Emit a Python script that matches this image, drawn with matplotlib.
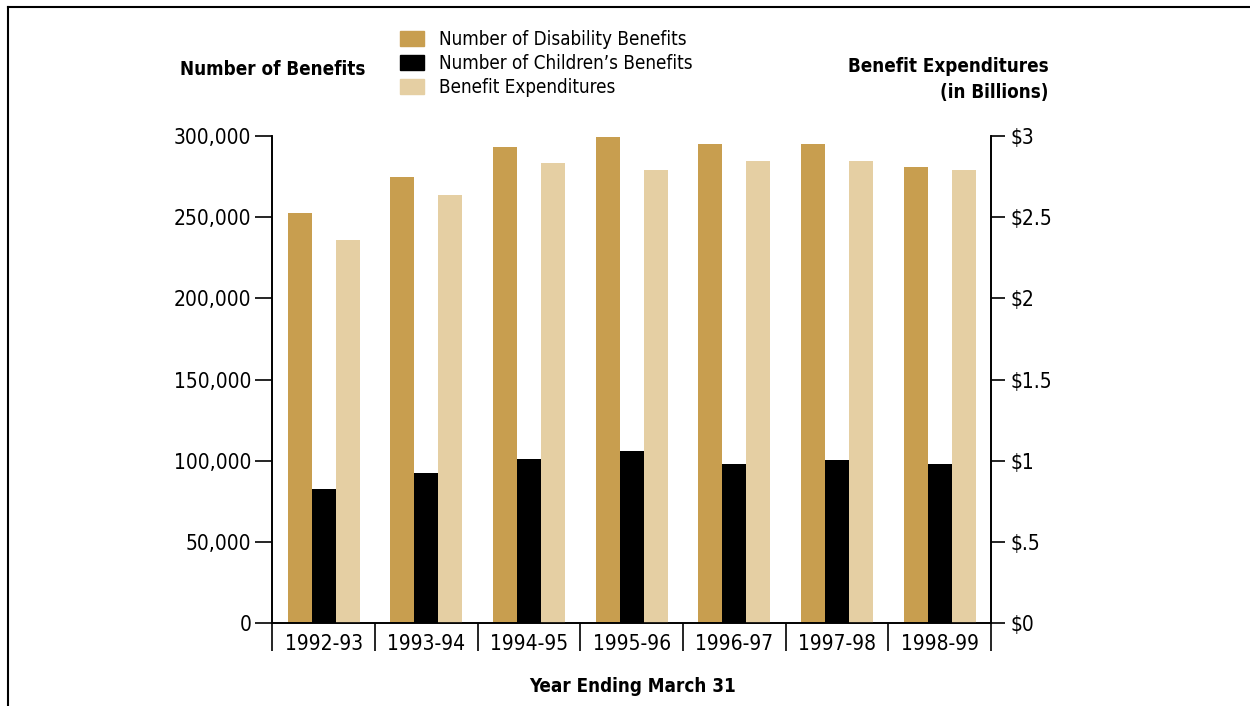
import matplotlib
matplotlib.use("Agg")
import numpy as np
import matplotlib.pyplot as plt
from matplotlib.lines import Line2D
from matplotlib.patches import Patch
from matplotlib.ticker import FuncFormatter

plt.rcParams['font.family'] = ['DejaVu Sans']
plt.rcParams['font.stretch'] = 'condensed'

# data
years = ['1992-93', '1993-94', '1994-95', '1995-96', '1996-97', '1997-98', '1998-99']
disability = [252400, 274600, 293000, 299200, 294900, 294900, 280700]
children = [82600, 92500, 101100, 106000, 98000, 100500, 98000]
expenditures = [2.36, 2.635, 2.83, 2.79, 2.845, 2.845, 2.79]  # $ billions

left_ticks = [0, 50000, 100000, 150000, 200000, 250000, 300000]
right_ticks = [0, 0.5, 1, 1.5, 2, 2.5, 3]
right_labels = ['$0', '$.5', '$1', '$1.5', '$2', '$2.5', '$3']

c_dis = '#c89e4f'
c_kid = '#000000'
c_exp = '#e5cfa3'

fig = plt.figure(figsize=(12.5, 7.06), dpi=100)
ax = fig.add_axes([0.2178, 0.1171, 0.5750, 0.6907])
ax2 = ax.twinx()

x = np.arange(len(years))
w = 0.234
ax.bar(x - w, disability, w, color=c_dis, zorder=2)
ax.bar(x, children, w, color=c_kid, zorder=2)
ax2.bar(x + w, expenditures, w, color=c_exp, zorder=2)

ax.set_xlim(-0.5, len(years) - 0.5)
ax.set_ylim(0, 300000)
ax2.set_ylim(0, 3)

for a in (ax, ax2):
    a.spines['top'].set_visible(False)
    for s in a.spines.values():
        s.set_linewidth(1.2)

ax.set_yticks(left_ticks)
ax.yaxis.set_major_formatter(FuncFormatter(lambda v, p: f'{int(v):,}'))
ax.tick_params(axis='y', direction='out', length=12, width=1.2, pad=3,
               labelsize=15)
ax2.set_yticks(right_ticks)
ax2.set_yticklabels(right_labels)
ax2.tick_params(axis='y', direction='out', length=10, width=1.2, pad=4,
                labelsize=15)

# category labels centred, separators as long ticks at the boundaries
ax.set_xticks(x)
ax.set_xticklabels(years)
ax.set_xticks(np.arange(-0.5, len(years)), minor=True)
ax.tick_params(axis='x', which='major', length=0, pad=8, labelsize=15)
ax.tick_params(axis='x', which='minor', direction='out', length=20, width=1.2)

# titles
fig.text(0.2184, 0.902, 'Number of Benefits', ha='center', va='center',
         fontsize=13.5, fontweight='bold')
fig.text(0.8392, 0.887, 'Benefit Expenditures\n(in Billions)', ha='right',
         va='center', fontsize=13.5, fontweight='bold', linespacing=1.45)
fig.text(0.5064, 0.027, 'Year Ending March 31', ha='center', va='center',
         fontsize=13.5, fontweight='bold')

handles = [Patch(color=c_dis), Patch(color=c_kid), Patch(color=c_exp)]
labels = ['Number of Disability Benefits', "Number of Children\u2019s Benefits",
          'Benefit Expenditures']
fig.legend(handles, labels, loc='upper left', bbox_to_anchor=(0.32, 0.957),
           frameon=False, fontsize=13.5, handlelength=1.28, handleheight=0.85,
           handletextpad=0.8, labelspacing=0.26, borderaxespad=0, borderpad=0)

# page frame (cut off at right and bottom)
fig.add_artist(Line2D([8 / 1250, 8 / 1250], [0, 1 - 7 / 706], color='black',
                      lw=1.5, transform=fig.transFigure))
fig.add_artist(Line2D([8 / 1250, 1], [1 - 7 / 706, 1 - 7 / 706], color='black',
                      lw=1.5, transform=fig.transFigure))

fig.savefig('out.png', dpi=100)
